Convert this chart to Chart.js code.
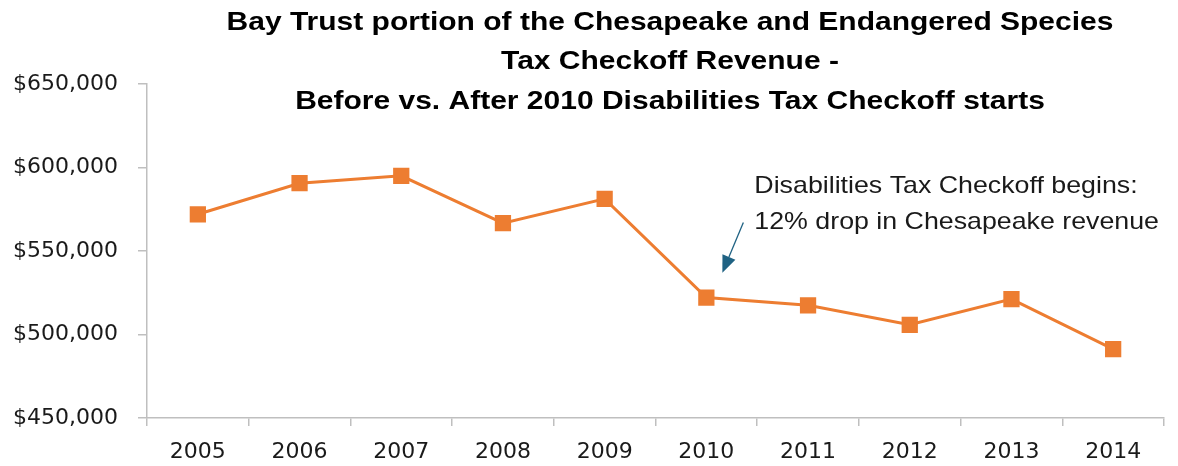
<!DOCTYPE html>
<html>
<head>
<meta charset="utf-8">
<script src="https://cdn.jsdelivr.net/npm/chart.js@4.4.1/dist/chart.umd.min.js"></script>
<style>
  html, body { margin: 0; padding: 0; background: #fff; }
  #wrap { width: 1178px; height: 466px; }
</style>
</head>
<body>
<div id="wrap"><canvas id="mainCanvas"></canvas></div>
<script>
const years = ['2005', '2006', '2007', '2008', '2009', '2010', '2011', '2012', '2013', '2014'];
const revenue = [572000, 590600, 595000, 566700, 581200, 522100, 517500, 505800, 521200, 491300];
const yTicks = [450000, 500000, 550000, 600000, 650000];
const titleLines = [
  'Bay Trust portion of the Chesapeake and Endangered Species',
  'Tax Checkoff Revenue -',
  'Before vs. After 2010 Disabilities Tax Checkoff starts'
];
const noteLines = ['Disabilities Tax Checkoff begins:', '12% drop in Chesapeake revenue'];

const orange = '#ED7D31';
const axisGray = '#BFBFBF';

// the source text is a bit wider than Arial, so stretch it sideways
function wideText(ctx, text, x, y, align, sx) {
  ctx.save();
  ctx.translate(x, y);
  ctx.scale(sx, 1);
  ctx.textAlign = align;
  ctx.fillText(text, 0, 0);
  ctx.restore();
}

// title + arrow note drawn on top of the chart
const overlay = {
  id: 'overlay',
  afterDraw(chart) {
    const { ctx, scales: { x, y } } = chart;
    ctx.save();
    ctx.fillStyle = '#000';
    ctx.textBaseline = 'middle';
    ctx.font = 'bold 25px "Liberation Sans"';
    titleLines.forEach((t, i) => wideText(ctx, t, 670, 23 + i * 39.5, 'center', 1.2));

    ctx.font = '24px "Liberation Sans"';
    ctx.fillStyle = '#1a1a1a';
    const nx = x.getPixelForValue(5) + 48;
    wideText(ctx, noteLines[0], nx, 186, 'left', 1.115);
    wideText(ctx, noteLines[1], nx, 222, 'left', 1.115);

    // arrow pointing at the 2010 drop
    const tx = x.getPixelForValue(5) + 16, ty = y.getPixelForValue(537000);
    const sx = x.getPixelForValue(5) + 37, sy = y.getPixelForValue(567000);
    const ang = Math.atan2(ty - sy, tx - sx);
    const headLen = 17, headW = 7;
    const bx = tx - headLen * Math.cos(ang), by = ty - headLen * Math.sin(ang);
    ctx.strokeStyle = '#1F6283';
    ctx.fillStyle = '#1F6283';
    ctx.lineWidth = 1.3;
    ctx.beginPath();
    ctx.moveTo(sx, sy);
    ctx.lineTo(bx, by);
    ctx.stroke();
    ctx.beginPath();
    ctx.moveTo(tx, ty);
    ctx.lineTo(bx + headW * Math.sin(ang), by - headW * Math.cos(ang));
    ctx.lineTo(bx - headW * Math.sin(ang), by + headW * Math.cos(ang));
    ctx.closePath();
    ctx.fill();
    ctx.restore();
  }
};

const ctx = document.getElementById('mainCanvas').getContext('2d');
new Chart(ctx, {
  type: 'line',
  data: {
    labels: years,
    datasets: [{
      label: 'Revenue',
      data: revenue,
      borderColor: orange,
      backgroundColor: orange,
      borderWidth: 3,
      pointStyle: 'rect',
      pointRadius: 11.5,
      pointHoverRadius: 11.5,
      pointBorderWidth: 0,
      tension: 0
    }]
  },
  options: {
    responsive: true,
    maintainAspectRatio: false,
    animation: false,
    layout: { padding: { top: 84, right: 14, left: 0, bottom: 0 } },
    plugins: {
      legend: { display: false },
      title: { display: false },
      tooltip: { enabled: false }
    },
    scales: {
      x: {
        offset: true,
        border: { color: axisGray, width: 1.5 },
        grid: { offset: true, drawOnChartArea: false, color: axisGray, lineWidth: 1.5, tickLength: 8 },
        ticks: { color: '#1a1a1a', font: { family: 'DejaVu Sans', size: 22 }, padding: 13, maxRotation: 0 },
        afterFit(scale) { scale.height = 48; }
      },
      y: {
        min: 450000,
        max: 650000,
        border: { color: axisGray, width: 1.5 },
        grid: { drawOnChartArea: false, color: axisGray, lineWidth: 1.5, tickLength: 9 },
        afterBuildTicks(scale) { scale.ticks = yTicks.map(v => ({ value: v })); },
        ticks: {
          color: '#1a1a1a',
          font: { family: 'DejaVu Sans', size: 22 },
          padding: 20,
          callback: v => '$' + v.toLocaleString('en-US')
        },
        afterFit(scale) { scale.width = 147; }
      }
    }
  },
  plugins: [overlay]
});
</script>
</body>
</html>
